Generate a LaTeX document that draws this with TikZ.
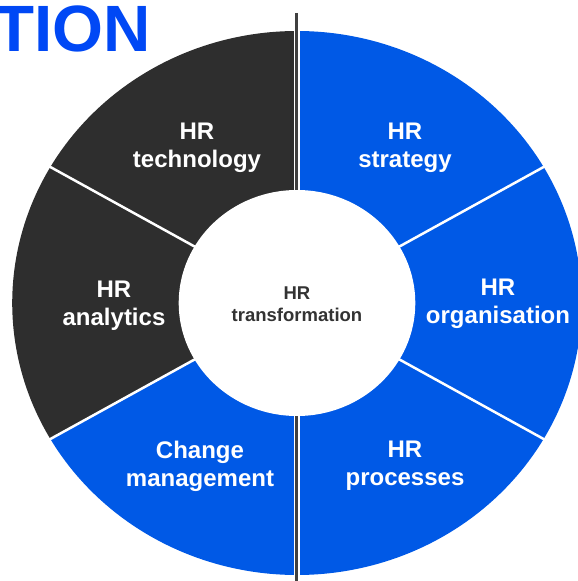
\documentclass[tikz,border=0pt]{standalone}
\usepackage{fontspec}
\setmainfont{Liberation Sans}
\definecolor{hrblue}{RGB}{0,89,230}
\definecolor{hrtitle}{RGB}{0,72,245}
\definecolor{hrdark}{RGB}{46,46,46}
\definecolor{hrgrey}{RGB}{64,64,64}
\definecolor{hrtext}{RGB}{51,51,51}
\begin{document}
\begin{tikzpicture}[x=1pt, y=1pt]
\tikzstyle{label} = [text = white, align = center, inner sep = 0pt, font = \fontsize{24}{27.7}\selectfont\bfseries] % segment text
\tikzstyle{hub} = [text = hrtext, align = center, inner sep = 0pt, font = \fontsize{18.5}{21.7}\selectfont\bfseries] % text in the middle
\tikzstyle{gap} = [white, line width = 2.5pt] % white gap between segments
\useasboundingbox (-297,-278) rectangle (281,303); % fix page size to the reference
\node(title)[anchor = base east, inner sep = 0pt, text = hrtitle, font = \fontsize{65.5}{70}\selectfont\bfseries] at (-146,251){TION}; % cut-off heading
\begin{scope}[xscale = 1.047] % ring is slightly wider than high
\foreach \a/\c in {30/hrblue, 90/hrdark, 150/hrdark, 210/hrblue, 270/hrblue, 330/hrblue}
  \fill[\c] (0,0) -- (\a:272) arc[start angle = \a, end angle = \a+60, radius = 272] -- cycle; % one segment
\foreach \a in {30, 150, 210, 330}
  \draw[gap] (0,0) -- (\a:276); % separators
\coordinate(top) at (0,290);
\coordinate(bottom) at (0,-278);
\draw[white, line width = 6pt] (top) -- (bottom); % white strip round the axis
\draw[hrgrey, line width = 3pt] (top) -- (bottom); % vertical axis
\fill[white] (0,0) circle (113); % hole in the middle
\end{scope}
\node(hub)[hub] at (0,-1.5){HR\\transformation};
\node(strategy)[label] at (108,155){HR\\strategy};
\node(organisation)[label] at (201,-0.5){HR\\organisation};
\node(processes)[label] at (108,-162.5){HR\\processes};
\node(change)[label] at (-97,-163){Change\\management};
\node(analytics)[label] at (-183,-2.5){HR\\analytics};
\node(technology)[label] at (-100,155){HR\\technology};
\end{tikzpicture}
\end{document}
